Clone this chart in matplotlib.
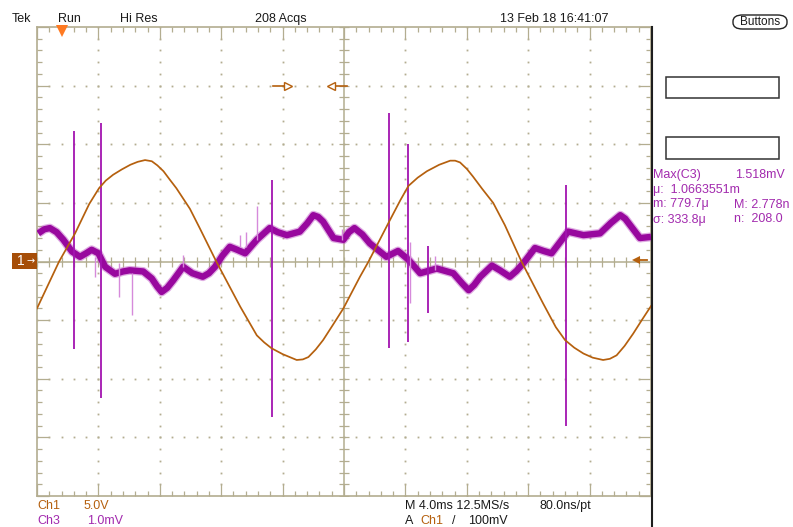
import numpy as np
import matplotlib
matplotlib.use("Agg")
import matplotlib.pyplot as plt
from matplotlib.lines import Line2D
from matplotlib.patches import Rectangle, FancyBboxPatch
from matplotlib.ticker import MultipleLocator

W, H = 793, 527

# ---- scope settings -------------------------------------------------------
T_DIV = 4.0        # ms / div
CH1_VDIV = 5.0     # V / div
CH3_VDIV = 1.0     # mV / div
N_HDIV, N_VDIV = 10, 8

# ---- Ch1 (orange) : time in ms, voltage in V --------------------------------
ch1_t = [0.0, 1.44, 2.48, 3.4, 4.04, 4.48, 4.96, 5.52, 6.08, 6.56,
         7.04, 7.48, 7.84, 8.24, 8.64, 9.08, 9.96, 10.6, 11.68, 13.24,
         14.32, 14.8, 15.28, 16.0, 16.92, 17.32, 17.68, 18.16, 18.64, 19.28,
         19.96, 21.04, 21.6, 23.0, 23.68, 24.2, 24.8, 25.4, 26.2, 26.92,
         27.24, 27.56, 28.0, 28.4, 29.0, 29.72, 30.48, 31.56, 32.96, 33.8,
         34.4, 35.0, 35.6, 36.2, 36.88, 37.32, 37.76, 38.28, 38.84, 39.4,
         40.0]
ch1_v = [-4.0, 0.0, 2.4, 4.9, 6.25, 6.9, 7.4, 7.85, 8.25, 8.5,
         8.65, 8.55, 8.2, 7.7, 7.0, 6.25, 4.5, 2.85, 0.0, -3.85,
         -6.3, -6.9, -7.4, -7.9, -8.4, -8.35, -8.15, -7.5, -6.7, -5.4,
         -4.0, -1.3, 0.0, 3.55, 5.25, 6.45, 7.15, 7.7, 8.25, 8.6,
         8.6, 8.45, 7.9, 7.25, 6.2, 5.0, 3.1, 0.0, -3.55, -5.6,
         -6.7, -7.35, -7.85, -8.2, -8.4, -8.3, -8.0, -7.2, -6.15, -5.0,
         -3.8]

# ---- Ch3 (purple) : time in ms, value in mV ---------------------------------
ch3_t = [0.08, 0.48, 0.84, 1.28, 1.72, 2.28, 2.8, 3.2, 3.56, 4.0,
         4.44, 5.08, 5.6, 6.04, 6.92, 7.48, 7.84, 8.12, 8.48, 8.88,
         9.52, 10.12, 10.8, 11.2, 11.6, 12.08, 12.56, 13.04, 13.56, 14.32,
         15.16, 15.68, 16.28, 17.12, 17.6, 18.0, 18.32, 18.64, 19.32, 19.96,
         20.32, 20.68, 21.2, 21.68, 22.76, 23.52, 24.2, 24.96, 26.04, 27.12,
         27.72, 28.12, 28.48, 28.88, 29.64, 30.16, 30.8, 31.24, 31.68, 32.44,
         33.0, 33.52, 34.6, 35.6, 36.68, 37.4, 38.0, 38.32, 38.64, 39.28,
         40.0]
ch3_mv = [0.48, 0.55, 0.57, 0.50, 0.37, 0.17, 0.08, 0.14, 0.20, 0.14,
          -0.09, -0.21, -0.17, -0.15, -0.17, -0.29, -0.43, -0.52, -0.45, -0.32,
          -0.09, -0.20, -0.26, -0.20, -0.09, 0.10, 0.25, 0.20, 0.14, 0.37,
          0.57, 0.50, 0.45, 0.51, 0.65, 0.79, 0.76, 0.68, 0.40, 0.37,
          0.50, 0.57, 0.46, 0.31, 0.08, 0.18, 0.03, -0.20, -0.12, -0.20,
          -0.38, -0.49, -0.40, -0.26, -0.07, -0.15, -0.26, -0.16, -0.03, 0.23,
          0.18, 0.14, 0.51, 0.45, 0.48, 0.66, 0.79, 0.73, 0.62, 0.40,
          0.42]

# strong glitches on Ch3: time (ms), top (mV), bottom (mV)
spike_t = [2.44, 4.16, 15.28, 22.96, 24.16, 25.48, 34.44]
spike_hi = [2.22, 2.37, 1.39, 2.54, 2.00, 0.26, 1.31]
spike_lo = [-1.50, -2.32, -2.65, -1.48, -1.37, -0.87, -2.80]
# faint glitches on Ch3
faint_t = [3.76, 5.36, 6.2, 9.52, 13.24, 13.64, 14.36, 19.84, 24.28, 25.9]
faint_hi = [0.08, -0.03, -0.20, 0.11, 0.45, 0.51, 0.95, 0.55, 0.34, 0.10]
faint_lo = [-0.27, -0.60, -0.91, -0.09, 0.25, 0.25, 0.37, 0.37, -0.71, -0.15]

trig_time = 1.63      # ms, trigger position marker
trig_level = 0.1      # V (100 mV on Ch1)
# horizontal markers at +3 div : (line start, line end, head centre) in ms
mark_r = (15.37, 16.16, 16.38)
mark_l = (20.2, 19.4, 19.15)
mark_y = 3.0          # div

GRAT = "#B3AD90"
ORANGE = "#B5600E"
PURPLE = "#98089E"
PURPLE_LIGHT = "#D68ADB"
TEXT_PURPLE = "#A22AAE"

FONT = ["Liberation Sans", "DejaVu Sans"]
plt.rcParams["font.family"] = FONT


def fx(x):
    return x / W


def fy(y):
    return 1 - y / H


fig = plt.figure(figsize=(W / 100, H / 100), dpi=100)
fig.patch.set_facecolor("white")

L, R, T, B = 37, 651, 27, 496
ax = fig.add_axes([fx(L), fy(B), (R - L) / W, (B - T) / H])
ax.set_xlim(0, N_HDIV * T_DIV)
ax.set_ylim(-N_VDIV / 2, N_VDIV / 2)
ax.set_facecolor("white")

# border ticks
ax.xaxis.set_major_locator(MultipleLocator(T_DIV))
ax.xaxis.set_minor_locator(MultipleLocator(T_DIV / 5))
ax.yaxis.set_major_locator(MultipleLocator(1))
ax.yaxis.set_minor_locator(MultipleLocator(0.2))
ax.tick_params(which="both", direction="in", top=True, right=True,
               labelbottom=False, labelleft=False, color=GRAT, width=0.9)
ax.tick_params(which="major", length=8.5)
ax.tick_params(which="minor", length=3.5)
for s in ax.spines.values():
    s.set_color(GRAT)
    s.set_linewidth(1.2)

# dotted graticule
yy = np.arange(-N_VDIV / 2, N_VDIV / 2 + 1e-9, 0.2)
xx = np.arange(0, N_HDIV * T_DIV + 1e-9, T_DIV / 5)
for k in range(1, N_HDIV):
    if k == N_HDIV // 2:
        continue
    ax.plot(np.full(len(yy), k * T_DIV), yy, ls="none", marker="s", ms=1.3,
            mew=0, color=GRAT, zorder=1)
for k in range(-N_VDIV // 2 + 1, N_VDIV // 2):
    if k == 0:
        continue
    ax.plot(xx, np.full(len(xx), k), ls="none", marker="s", ms=1.3,
            mew=0, color=GRAT, zorder=1)

# center cross with ticks
cx = N_HDIV * T_DIV / 2
ax.axhline(0, color=GRAT, lw=1.1, zorder=1)
ax.axvline(cx, color=GRAT, lw=1.1, zorder=1)
ax.plot(xx, np.zeros(len(xx)), ls="none", marker="|", ms=6.5, mew=0.9,
        color=GRAT, zorder=1)
ax.plot(np.full(len(yy), cx), yy, ls="none", marker="_", ms=6.5, mew=0.9,
        color=GRAT, zorder=1)

# Ch3 trace (noise band drawn as thick line)
ch3_div = np.array(ch3_mv) / CH3_VDIV
ax.plot(ch3_t, ch3_div, color="#B848C0", lw=6.4, solid_joinstyle="round",
        solid_capstyle="butt", alpha=0.45, zorder=3)
ax.plot(ch3_t, ch3_div, color=PURPLE, lw=4.6, solid_joinstyle="round",
        solid_capstyle="butt", zorder=3)
ax.vlines(faint_t, np.array(faint_lo) / CH3_VDIV, np.array(faint_hi) / CH3_VDIV,
          color=PURPLE_LIGHT, lw=1.0, zorder=3)
ax.vlines(spike_t, np.array(spike_lo) / CH3_VDIV, np.array(spike_hi) / CH3_VDIV,
          color="#A214B0", lw=1.3, zorder=4)

# Ch1 trace
ax.plot(ch1_t, np.array(ch1_v) / CH1_VDIV, color=ORANGE, lw=1.25, zorder=5)

# trigger position marker (top)
ax.plot([trig_time], [N_VDIV / 2 - 0.07], marker="v", ms=8, color="#FF7A22",
        mew=0, clip_on=False, zorder=6)
# trigger level arrow (right)
xmax = N_HDIV * T_DIV
ax.plot([xmax - 1.05, xmax - 0.25], [trig_level / CH1_VDIV] * 2, color=ORANGE,
        lw=1.3, zorder=6)
ax.plot([xmax - 0.95], [trig_level / CH1_VDIV], marker="<", ms=5.5, mew=0,
        color=ORANGE, zorder=6)
# horizontal position markers at +3 div
ax.plot(mark_r[:2], [mark_y] * 2, color=ORANGE, lw=1.2, zorder=6)
ax.plot([mark_r[2]], [mark_y], marker=">", ms=6, mfc="white", mec=ORANGE,
        mew=1.0, zorder=7)
ax.plot(mark_l[:2], [mark_y] * 2, color=ORANGE, lw=1.2, zorder=6)
ax.plot([mark_l[2]], [mark_y], marker="<", ms=6, mfc="white", mec=ORANGE,
        mew=1.0, zorder=7)

# right dark border line
fig.add_artist(Line2D([fx(651.5), fx(651.5)], [fy(T), 0], color="#1E1E1E",
                      lw=1.5))

# Ch1 ground marker box
fig.add_artist(Rectangle((fx(11.5), fy(269)), (37 - 11.5) / W, 16 / H,
                         facecolor="#A64E08", edgecolor="none"))
fig.text(fx(21), fy(261), "1", color="white", fontsize=10, ha="center",
         va="center")
fig.text(fx(31), fy(261), "\u2192", color="white", fontsize=7, ha="center",
         va="center", family=["DejaVu Sans"])

# header
hdr = dict(fontsize=9, va="center", ha="left", color="#1A1A1A")
fig.text(fx(12), fy(19), "Tek", **hdr)
fig.text(fx(58), fy(19), "Run", **hdr)
fig.text(fx(120), fy(19), "Hi Res", **hdr)
fig.text(fx(255), fy(19), "208 Acqs", **hdr)
fig.text(fx(500), fy(19), "13 Feb 18 16:41:07", **hdr)
fig.add_artist(FancyBboxPatch((fx(733), fy(29)), (787 - 733) / W, 14 / H,
                              boxstyle="round,pad=0,rounding_size=0.012",
                              facecolor="white", edgecolor="#222", lw=1.0))
fig.text(fx(760), fy(22), "Buttons", fontsize=8.5, ha="center", va="center",
         color="#1A1A1A")

# right panel
for y0, y1 in [(77, 98), (137, 159)]:
    fig.add_artist(Rectangle((fx(666), fy(y1)), (779 - 666) / W, (y1 - y0) / H,
                             facecolor="white", edgecolor="#333", lw=1.1))
rp = dict(fontsize=9, va="center", ha="left", color=TEXT_PURPLE)
fig.text(fx(653), fy(175), "Max(C3)", **rp)
fig.text(fx(735), fy(175), "1.518mV", **rp)
fig.text(fx(653), fy(189.5), "\u03bc:  1.0663551m", **rp)
fig.text(fx(653), fy(204.5), "m: 779.7\u03bc", **rp)
fig.text(fx(734), fy(204.5), "M: 2.778n", **rp)
fig.text(fx(653), fy(219.5), "\u03c3: 333.8\u03bc", **rp)
fig.text(fx(734), fy(219.5), "n:  208.0", **rp)

# footer
ft = dict(fontsize=9, va="center", ha="left")
fig.text(fx(37), fy(506), "Ch1", color=ORANGE, **ft)
fig.text(fx(84), fy(506), "5.0V", color=ORANGE, **ft)
fig.text(fx(37), fy(521), "Ch3", color=TEXT_PURPLE, **ft)
fig.text(fx(87), fy(521), "1.0mV", color=TEXT_PURPLE, **ft)
fig.text(fx(405), fy(506), "M 4.0ms 12.5MS/s", color="#1A1A1A", **ft)
fig.text(fx(539), fy(506), "80.0ns/pt", color="#1A1A1A", **ft)
fig.text(fx(405), fy(521), "A", color="#1A1A1A", **ft)
fig.text(fx(420), fy(521), "Ch1", color=ORANGE, **ft)
fig.text(fx(452), fy(521), "/", color="#1A1A1A", **ft)
fig.text(fx(468), fy(521), "100mV", color="#1A1A1A", **ft)

fig.savefig("out.png", dpi=100, facecolor="white")
